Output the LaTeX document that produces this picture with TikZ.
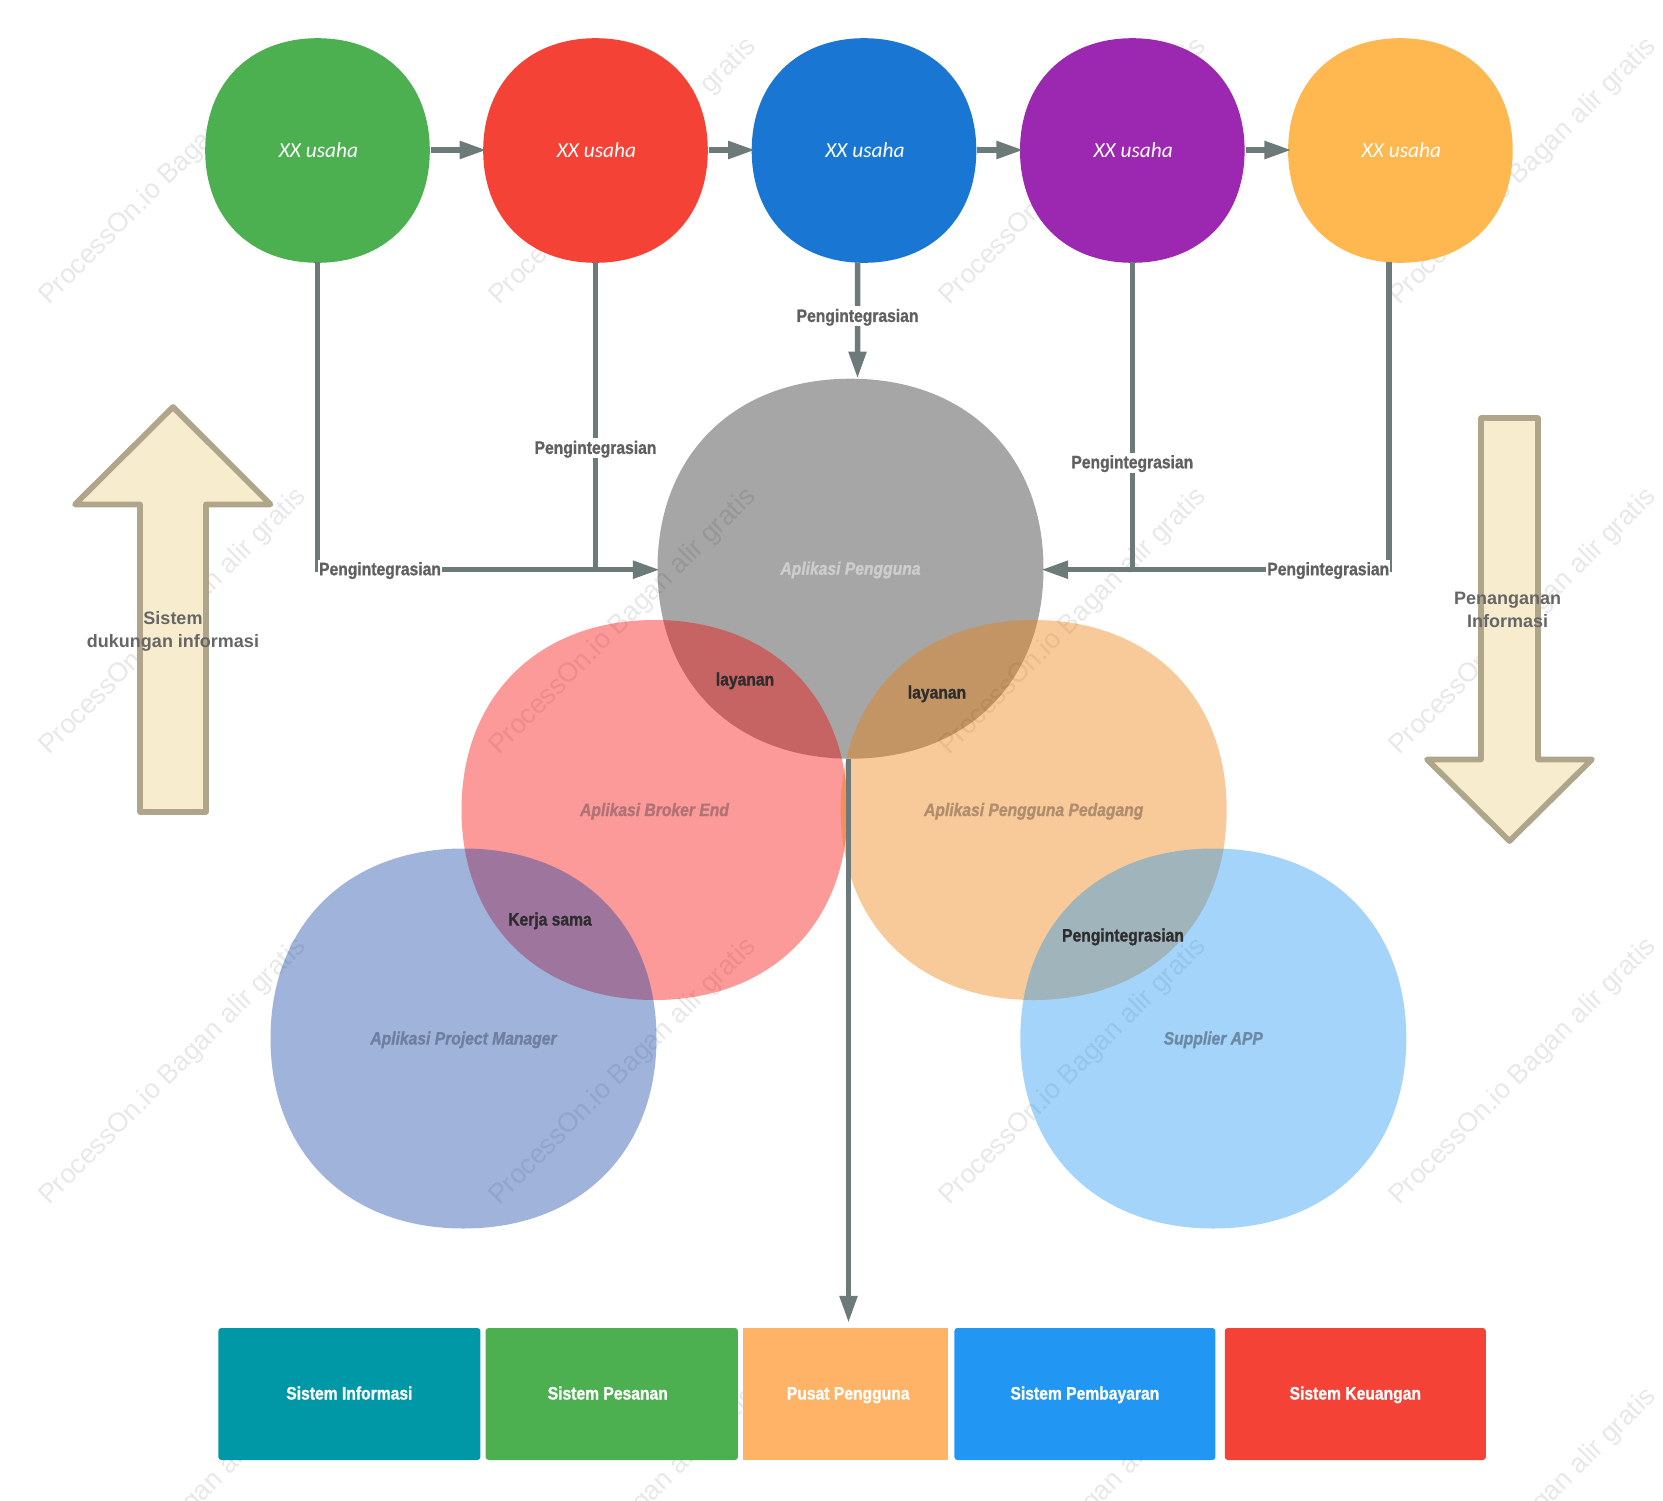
\documentclass[tikz,border=0pt]{standalone}
\usepackage{fontspec}
\usetikzlibrary{arrows.meta,shapes.geometric}
\setmainfont{Liberation Sans}
\newfontfamily\impactfont[FakeStretch=0.87,FakeBold=1.1]{Liberation Sans}
\newfontfamily\usahafont{Carlito}
\definecolor{wire}{HTML}{6C7B7A}
\definecolor{wmark}{HTML}{E8E8E8}
\definecolor{armfill}{HTML}{F7ECCE}
\definecolor{armline}{HTML}{AEA58B}
\definecolor{labgray}{HTML}{606060}
\definecolor{sidegray}{HTML}{666666}
\definecolor{labdark}{HTML}{2D2D2D}
\definecolor{cgreen}{HTML}{4CAF50}
\definecolor{cred}{HTML}{F44336}
\definecolor{cblue}{HTML}{1976D2}
\definecolor{cpurple}{HTML}{9C27B0}
\definecolor{corange}{HTML}{FFB74F}
\definecolor{cteal}{HTML}{0097A7}
\definecolor{cpeach}{HTML}{FFB366}
\definecolor{csky}{HTML}{2196F3}
\definecolor{tbroker}{HTML}{F70000}
\definecolor{ttrader}{HTML}{F07A00}
\definecolor{tpm}{HTML}{1141A2}
\definecolor{tsupplier}{HTML}{1B93F0}
% flattened circle, a little fuller than a true ellipse
\newcommand{\blob}[5]{%
    \fill[#5] (#1-#3,#2) .. controls (#1-#3,#2-0.6*#4) and (#1-0.6*#3,#2-#4) .. (#1,#2-#4)
        .. controls (#1+0.6*#3,#2-#4) and (#1+#3,#2-0.6*#4) .. (#1+#3,#2)
        .. controls (#1+#3,#2+0.6*#4) and (#1+0.6*#3,#2+#4) .. (#1,#2+#4)
        .. controls (#1-0.6*#3,#2+#4) and (#1-#3,#2+0.6*#4) .. (#1-#3,#2) -- cycle;
}

\begin{document}
\begin{tikzpicture}[
        x=1pt, y=-1pt,
        usaha/.style={circle, inner sep=0pt, minimum size=224.5pt, text=white,
            font=\usahafont\itshape\fontsize{21.4}{24}\selectfont},
        app/.style={ellipse, inner sep=0pt, minimum width=386pt, minimum height=380pt,
            text height=15pt, text depth=3pt,
            font=\impactfont\bfseries\itshape\fontsize{18}{20}\selectfont},
        tint/.style={fill opacity=0.4},
        sys/.style={rectangle, rounded corners=3pt, inner sep=0pt, minimum height=132pt,
            text=white, text height=14.5pt, text depth=3.5pt,
            font=\impactfont\bfseries\fontsize{18}{20}\selectfont},
        flow/.style={draw=wire, line width=5.5pt, shorten >=-2.5pt,
            -{Triangle[length=27pt,width=17pt]}},
        bar/.style={draw=wire, line width=5.5pt},
        lab/.style={fill=white, inner sep=1pt, text=labgray,
            text height=14.5pt, text depth=3.5pt,
            font=\impactfont\bfseries\fontsize{18}{20}\selectfont},
        overlab/.style={text=labdark, inner sep=0pt,
            text height=14.5pt, text depth=3.5pt,
            font=\impactfont\bfseries\fontsize{18}{20}\selectfont},
        bigarrow/.style={draw=armline, fill=armfill, line width=5.7pt, line join=round},
        side/.style={align=center, text=sidegray, inner sep=0pt,
            font=\bfseries\fontsize{18}{23}\selectfont},
        wmk/.style={rotate=45, text=wmark, inner sep=0pt, font=\fontsize{27}{30}\selectfont}
    ]
        \useasboundingbox (0,0) rectangle (1663,1500);

        % Watermark behind everything
        \begin{scope}
            \clip (0,0) rectangle (1663,1500);
            \foreach \wx in {173,623,1073,1523}
                \foreach \wy in {172,622,1072,1522}
                    \node[wmk] (w\wx\wy) at (\wx,\wy) {ProcessOn.io Bagan alir gratis};
        \end{scope}

        % Top row
        \blob{317.5}{150.5}{112.3}{112.3}{cgreen}
        \blob{595.5}{150.5}{112.3}{112.3}{cred}
        \blob{864}{150.5}{112.3}{112.3}{cblue}
        \blob{1132.3}{150.5}{112.3}{112.3}{cpurple}
        \blob{1400.4}{150.5}{112.3}{112.3}{corange}
        \node[usaha] (c1) at (318.5,150) {XX usaha};
        \node[usaha] (c2) at (596.5,150) {XX usaha};
        \node[usaha] (c3) at (865,150) {XX usaha};
        \node[usaha] (c4) at (1133.3,150) {XX usaha};
        \node[usaha] (c5) at (1401.4,150) {XX usaha};

        % Side arrows
        \draw[bigarrow] (173,407) -- (270.5,504.4) -- (206,504.4) -- (206,812) -- (140,812)
            -- (140,504.4) -- (75,504.4) -- cycle;
        \draw[bigarrow] (1481,418) -- (1538,418) -- (1538,759.4) -- (1592,759.4)
            -- (1509.5,841) -- (1427,759.4) -- (1481,759.4) -- cycle;
        \node[side] (sup) at (173,631.5) {Sistem\\dukungan informasi};
        \node[side] (han) at (1507.5,610) {Penanganan\\Informasi};

        % Overlapping application circles
        \blob{850.5}{568.7}{193}{190}{black, fill opacity=0.35}
        \node[app, text={rgb,255:red,205;green,205;blue,205}] (user) at (850.5,568.7) {Aplikasi Pengguna};
        \blob{654.5}{810}{193}{190}{tbroker, tint}
        \node[app, text={rgb,255:red,176;green,114;blue,117}] (broker) at (654.5,810) {Aplikasi Broker End};
        \blob{1033.7}{810}{193}{190}{ttrader, tint}
        \node[app, text={rgb,255:red,176;green,141;blue,109}] (trader) at (1033.7,810) {Aplikasi Pengguna Pedagang};
        \blob{463.5}{1038.5}{193}{190}{tpm, tint}
        \node[app, text={rgb,255:red,111;green,127;blue,160}] (pm) at (463.5,1038.5) {Aplikasi Project Manager};
        \blob{1213.3}{1038.5}{193}{190}{tsupplier, tint}
        \node[app, text={rgb,255:red,107;green,138;blue,166}] (supplier) at (1213.3,1038.5) {Supplier APP};

        \node[overlab] (lay1) at (745,680) {layanan};
        \node[overlab] (lay2) at (937,693) {layanan};
        \node[overlab] (kerja) at (550,920) {Kerja sama};
        \node[overlab] (integ) at (1123,936) {Pengintegrasian};

        % Bottom systems
        \node[sys, fill=cteal, minimum width=262pt] (s1) at (349.4,1394) {Sistem Informasi};
        \node[sys, fill=cgreen, minimum width=252.3pt] (s2) at (611.8,1394) {Sistem Pesanan\hspace*{8pt}};
        \node[sys, fill=cpeach, minimum width=204.6pt, rounded corners=0pt] (s3) at (845.7,1394) {\hspace*{5pt}Pusat Pengguna};
        \node[sys, fill=csky, minimum width=261pt] (s4) at (1084.9,1394) {Sistem Pembayaran};
        \node[sys, fill=cred, minimum width=261pt] (s5) at (1355.3,1394) {Sistem Keuangan};

        % Arrows along the top row
        \draw[flow] (c1) -- (c2);
        \draw[flow] (c2) -- (c3);
        \draw[flow] (c3) -- (c4);
        \draw[flow] (c4) -- (c5);

        % Integration lines into the user circle
        \draw[flow] ([xshift=-1pt]c1.south) |- node[lab, pos=0.592] {Pengintegrasian} ([yshift=-1pt]user.west);
        \draw[bar] ([xshift=-1pt]c2.south) -- node[lab, pos=0.605] {Pengintegrasian} ([xshift=-1pt,yshift=-1pt]c2.south |- user.west);
        \draw[flow, shorten >=0pt] ([xshift=-7.4pt]c3.south) -- node[lab, pos=0.465] {Pengintegrasian} ([xshift=7pt]user.north);
        \draw[bar] ([xshift=-1pt]c4.south) -- node[lab, pos=0.652] {Pengintegrasian} ([xshift=-1pt,yshift=-1pt]c4.south |- user.east);
        \draw[flow] ([xshift=-12.4pt]c5.south) |- node[lab, pos=0.588] {Pengintegrasian} ([yshift=-1pt]user.east);

        % Down to the systems
        \draw[flow, shorten >=0pt] ([xshift=-2pt]user.south) -- ([xshift=2.8pt,yshift=5pt]s3.north);
    \end{tikzpicture}
\end{document}
